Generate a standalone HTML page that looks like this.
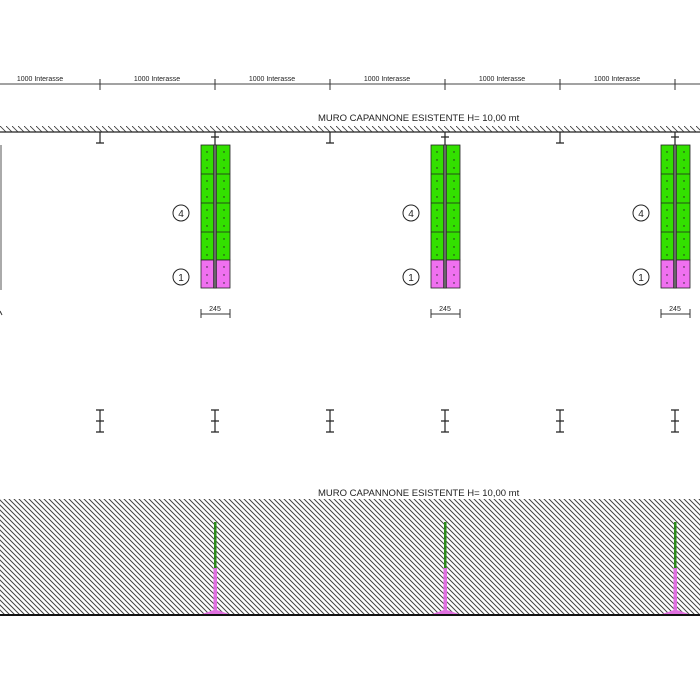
<!DOCTYPE html>
<html><head><meta charset="utf-8"><style>
body{margin:0;background:#fff}
svg{display:block}
text{font-family:"Liberation Sans",sans-serif;fill:#222}
</style></head><body>
<svg width="700" height="700" viewBox="0 0 700 700" xmlns="http://www.w3.org/2000/svg">
<defs>
<pattern id="h" width="5" height="5" patternUnits="userSpaceOnUse">
<path d="M-1,-1 L6,6 M-1,4 L1,6 M4,-1 L6,1" stroke="#444" stroke-width="1"/>
</pattern>
<pattern id="h2" width="6" height="6" patternUnits="userSpaceOnUse">
<path d="M-1,-1 L7,7" stroke="#444" stroke-width="0.9"/>
</pattern>
</defs>
<line x1="0" y1="84" x2="700" y2="84" stroke="#444" stroke-width="1"/>
<g stroke="#333" stroke-width="1">
<line x1="100" y1="79" x2="100" y2="90"/><line x1="215" y1="79" x2="215" y2="90"/>
<line x1="330" y1="79" x2="330" y2="90"/><line x1="445" y1="79" x2="445" y2="90"/>
<line x1="560" y1="79" x2="560" y2="90"/><line x1="675" y1="79" x2="675" y2="90"/>
</g>
<g font-size="7" text-anchor="middle">
<text x="40" y="81">1000 Interasse</text><text x="157" y="81">1000 Interasse</text>
<text x="272" y="81">1000 Interasse</text><text x="387" y="81">1000 Interasse</text>
<text x="502" y="81">1000 Interasse</text><text x="617" y="81">1000 Interasse</text>
</g>
<rect x="0" y="126" width="700" height="6" fill="url(#h2)"/>
<line x1="0" y1="132" x2="700" y2="132" stroke="#222" stroke-width="1.3"/>
<text x="318" y="121" font-size="9.5">MURO CAPANNONE ESISTENTE H= 10,00 mt</text>
<g stroke="#222" stroke-width="1.2">
<path d="M100,132 V143 M96,143 H104"/><path d="M330,132 V143 M326,143 H334"/><path d="M560,132 V143 M556,143 H564"/>
<path d="M215,132 V145 M211,137 H219"/><path d="M445,132 V145 M441,137 H449"/><path d="M675,132 V145 M671,137 H679"/>
</g>
<line x1="1" y1="145" x2="1" y2="290" stroke="#555"/>
<line x1="0" y1="311" x2="2" y2="315" stroke="#333"/>
<g id="r">
<rect x="201" y="145" width="29" height="115" fill="#33e000" stroke="#222" stroke-width="0.8"/>
<rect x="201" y="260" width="29" height="28" fill="#f070f0" stroke="#222" stroke-width="0.8"/>
<g stroke="#222" stroke-width="0.8"><line x1="201" y1="174" x2="230" y2="174"/><line x1="201" y1="203" x2="230" y2="203"/><line x1="201" y1="232" x2="230" y2="232"/></g>
<rect x="213.5" y="145" width="3" height="143" fill="#666" stroke="#222" stroke-width="0.6"/>
<g fill="#222"><circle cx="207" cy="152" r="0.7"/><circle cx="207" cy="160" r="0.7"/><circle cx="207" cy="168" r="0.7"/><circle cx="207" cy="181" r="0.7"/><circle cx="207" cy="189" r="0.7"/><circle cx="207" cy="197" r="0.7"/><circle cx="207" cy="210" r="0.7"/><circle cx="207" cy="218" r="0.7"/><circle cx="207" cy="226" r="0.7"/><circle cx="207" cy="239" r="0.7"/><circle cx="207" cy="247" r="0.7"/><circle cx="207" cy="255" r="0.7"/><circle cx="207" cy="267" r="0.7"/><circle cx="207" cy="275" r="0.7"/><circle cx="207" cy="283" r="0.7"/>
<circle cx="224" cy="152" r="0.7"/><circle cx="224" cy="160" r="0.7"/><circle cx="224" cy="168" r="0.7"/><circle cx="224" cy="181" r="0.7"/><circle cx="224" cy="189" r="0.7"/><circle cx="224" cy="197" r="0.7"/><circle cx="224" cy="210" r="0.7"/><circle cx="224" cy="218" r="0.7"/><circle cx="224" cy="226" r="0.7"/><circle cx="224" cy="239" r="0.7"/><circle cx="224" cy="247" r="0.7"/><circle cx="224" cy="255" r="0.7"/><circle cx="224" cy="267" r="0.7"/><circle cx="224" cy="275" r="0.7"/><circle cx="224" cy="283" r="0.7"/></g>
<circle cx="181" cy="213" r="8" fill="none" stroke="#222"/><text x="181" y="217" font-size="10" text-anchor="middle">4</text>
<circle cx="181" cy="277" r="8" fill="none" stroke="#222"/><text x="181" y="281" font-size="10" text-anchor="middle">1</text>
<path d="M201,314 H230 M201,309 V318 M230,309 V318" stroke="#333"/>
<text x="215" y="311" font-size="7" text-anchor="middle">245</text>
</g>
<use href="#r" x="230"/>
<use href="#r" x="460"/>
<g stroke="#222" stroke-width="1.2">
<path d="M100,410 V432 M96,410 H104 M96,421 H104 M96,432 H104"/>
<path d="M215,410 V432 M211,410 H219 M211,421 H219 M211,432 H219"/>
<path d="M330,410 V432 M326,410 H334 M326,421 H334 M326,432 H334"/>
<path d="M445,410 V432 M441,410 H449 M441,421 H449 M441,432 H449"/>
<path d="M560,410 V432 M556,410 H564 M556,421 H564 M556,432 H564"/>
<path d="M675,410 V432 M671,410 H679 M671,421 H679 M671,432 H679"/>
</g>
<text x="318" y="496" font-size="9.5">MURO CAPANNONE ESISTENTE H= 10,00 mt</text>
<rect x="0" y="499" width="700" height="115" fill="url(#h)"/>
<g>
<rect x="214" y="522" width="2.5" height="46" fill="#2a8a1a"/><rect x="213.5" y="568" width="3.5" height="43" fill="#e070e0"/><path d="M202,614 L214,610 H217 L229,614 Z" fill="#e070e0"/>
<rect x="444" y="522" width="2.5" height="46" fill="#2a8a1a"/><rect x="443.5" y="568" width="3.5" height="43" fill="#e070e0"/><path d="M432,614 L444,610 H447 L459,614 Z" fill="#e070e0"/>
<rect x="674" y="522" width="2.5" height="46" fill="#2a8a1a"/><rect x="673.5" y="568" width="3.5" height="43" fill="#e070e0"/><path d="M662,614 L674,610 H677 L689,614 Z" fill="#e070e0"/>
</g>
<line x1="0" y1="615" x2="700" y2="615" stroke="#111" stroke-width="2"/>
</svg>
</body></html>
